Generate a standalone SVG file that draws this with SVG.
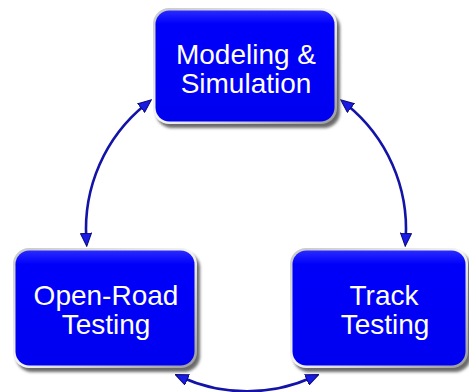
<svg xmlns="http://www.w3.org/2000/svg" width="469" height="392" viewBox="0 0 469 392">
  <defs>
    <style>
      .label { font-family: "Liberation Sans", Arial, sans-serif; font-size: 28px; fill: #ffffff; text-anchor: middle; }
      .link { fill: none; stroke: #1313a8; stroke-width: 2.6; }
      .shadow { fill: #6a6a6a; filter: url(#soft); }
      .bevel { fill: url(#bevelGrad); }
      .face { fill: url(#faceGrad); }
    </style>
    <filter id="soft" x="-10%" y="-10%" width="120%" height="120%">
      <feGaussianBlur stdDeviation="1.4"/>
    </filter>
    <linearGradient id="bevelGrad" x1="0" y1="0" x2="1" y2="1">
      <stop offset="0" stop-color="#c8c8c8"/>
      <stop offset="0.5" stop-color="#f4f4f4"/>
      <stop offset="1" stop-color="#9a9a9a"/>
    </linearGradient>
    <linearGradient id="faceGrad" x1="0" y1="0" x2="0" y2="1">
      <stop offset="0" stop-color="#2a2aff"/>
      <stop offset="0.12" stop-color="#0000fa"/>
      <stop offset="1" stop-color="#0000f0"/>
    </linearGradient>
    <marker id="head" viewBox="0 0 14 12" markerWidth="14" markerHeight="12" refX="6" refY="6" orient="auto-start-reverse" markerUnits="userSpaceOnUse">
      <path d="M0.5,0.5 L13.5,6 L0.5,11.5 Z" fill="#1a1ae6" stroke="#0a0a7a" stroke-width="1"/>
    </marker>
  </defs>

  <!-- connectors: arcs of one circle through the three boxes -->
  <g id="connectors">
    <path class="link" d="M 145.5 104.5 A 160 160 0 0 0 86.3 238.8" marker-start="url(#head)" marker-end="url(#head)"/>
    <path class="link" d="M 346.5 104.5 A 160 160 0 0 1 405.7 238.8" marker-start="url(#head)" marker-end="url(#head)"/>
    <path class="link" d="M 182 377.5 A 160 160 0 0 0 312 377.5" marker-start="url(#head)" marker-end="url(#head)"/>
  </g>

  <g id="modeling-simulation">
    <rect class="shadow" x="156" y="12" width="184" height="116" rx="16"/>
    <rect class="bevel" x="153" y="8" width="184" height="116" rx="16"/>
    <rect class="face" x="155.5" y="10.5" width="179" height="111" rx="14"/>
    <text class="label" x="246" y="64">Modeling &amp;</text>
    <text class="label" x="246" y="93">Simulation</text>
  </g>

  <g id="open-road-testing">
    <rect class="shadow" x="16" y="252" width="184" height="120" rx="16"/>
    <rect class="bevel" x="13" y="248" width="184" height="120" rx="16"/>
    <rect class="face" x="15.5" y="250.5" width="179" height="115" rx="14"/>
    <text class="label" x="106" y="305">Open-Road</text>
    <text class="label" x="106" y="334">Testing</text>
  </g>

  <g id="track-testing">
    <rect class="shadow" x="293" y="252" width="178" height="120" rx="16"/>
    <rect class="bevel" x="290" y="248" width="178" height="120" rx="16"/>
    <rect class="face" x="292.5" y="250.5" width="173" height="115" rx="14"/>
    <text class="label" x="384" y="305">Track</text>
    <text class="label" x="385" y="334">Testing</text>
  </g>
</svg>
